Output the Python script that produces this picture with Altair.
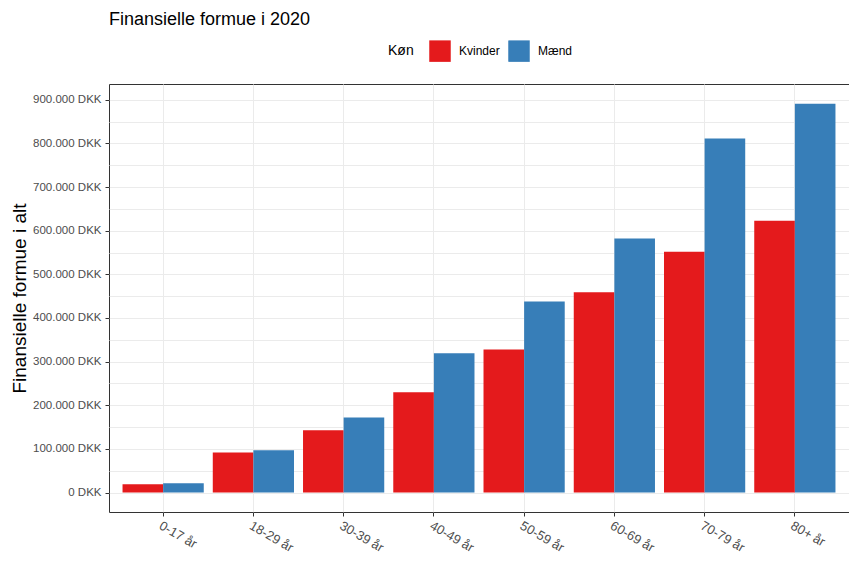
import altair as alt
import pandas as pd

ages = ["0-17 år", "18-29 år", "30-39 år", "40-49 år", "50-59 år", "60-69 år", "70-79 år", "80+ år"]
sexes = ["Kvinder", "Mænd"]
kvinder = [19000, 92000, 143000, 230000, 328000, 459000, 552000, 623000]
maend = [21500, 97000, 172000, 319000, 438000, 582000, 811000, 891000]
y_ticks = [i * 50000 for i in range(19)]
colors = ["#E41A1C", "#377EB8"]

rows = []
for a, k, m in zip(ages, kvinder, maend):
    rows.append({"Alder": a, "Køn": "Kvinder", "Formue": k})
    rows.append({"Alder": a, "Køn": "Mænd", "Formue": m})
df = pd.DataFrame(rows)

FONT = "Liberation Sans"

label_expr = ("datum.value % 100000 === 0 ? (datum.value === 0 ? '0 DKK' : "
              "format(datum.value / 1000, 'd') + '.000 DKK') : ''")

chart = alt.Chart(df, title=alt.Title(
    "Finansielle formue i 2020", anchor="start", frame="group",
    fontSize=18, fontWeight="normal", font=FONT, color="black",
    baseline="alphabetic", offset=16, dy=18.5)).mark_bar().encode(
    x=alt.X("Alder:N", sort=ages, title=None,
            scale=alt.Scale(paddingInner=0.1, paddingOuter=0.15),
            axis=alt.Axis(labelAngle=30, labelAlign="left", labelBaseline="top",
                          labelFontSize=13, labelColor="#4D4D4D", labelFont=FONT,
                          labelPadding=3, tickSize=4, tickColor="#333333",
                          domain=False, grid=True, gridColor="#EBEBEB",
                          bandPosition=0.5)),
    xOffset=alt.XOffset("Køn:N", sort=sexes,
                        scale=alt.Scale(paddingInner=0, paddingOuter=0)),
    y=alt.Y("Formue:Q", title="Finansielle formue i alt",
            scale=alt.Scale(domain=[-44600, 936100], nice=False, zero=False),
            axis=alt.Axis(values=y_ticks, labelExpr=label_expr,
                          labelFontSize=11.5, labelColor="#4D4D4D", labelFont=FONT,
                          labelPadding=4, tickSize=4, tickColor="#333333",
                          tickOpacity=alt.expr("datum.value % 100000 === 0 ? 1 : 0"),
                          domain=False, grid=True, gridColor="#EBEBEB",
                          titleFontSize=19, titleFontWeight="normal", titleFont=FONT,
                          titleColor="black", titlePadding=3)),
    y2=alt.datum(0),
    color=alt.Color("Køn:N", sort=sexes,
                    scale=alt.Scale(domain=sexes, range=colors),
                    legend=alt.Legend(orient="none", legendX=279, legendY=-44,
                                      direction="horizontal", titleOrient="left",
                                      titleBaseline="middle",
                                      symbolType="square", symbolSize=462,
                                      symbolStrokeWidth=0, symbolOpacity=1,
                                      labelFontSize=12, labelFont=FONT, labelColor="black",
                                      titleFontSize=14, titleFont=FONT,
                                      titleFontWeight="normal", titleColor="black",
                                      labelOffset=8, columnPadding=8, titlePadding=15)),
).properties(
    width=740, height=428,
    autosize=alt.AutoSizeParams(type="none"),
    padding={"left": 101, "top": 76, "right": 0, "bottom": 50},
).configure_view(stroke="#333333", strokeWidth=1)

chart.save("out.html", embed_options={"renderer": "svg", "actions": False})
